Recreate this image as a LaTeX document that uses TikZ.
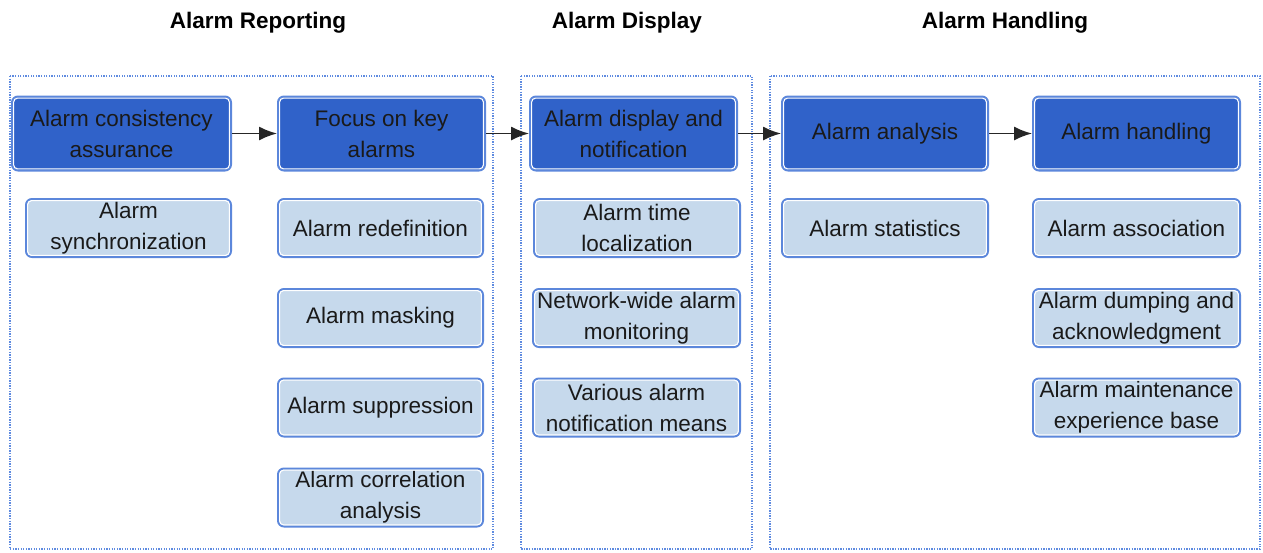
\documentclass[tikz,border=0pt]{standalone}
\usepackage{fontspec}
\setmainfont{Liberation Sans}
\usetikzlibrary{arrows.meta}
\definecolor{darkfill}{HTML}{3062C9}
\definecolor{lightfill}{HTML}{C6D9EC}
\definecolor{boxedge}{HTML}{5C87DB}
\definecolor{frameedge}{HTML}{5F8BE0}
\definecolor{txt}{HTML}{1A1A1A}
\begin{document}
\begin{tikzpicture}[x=1pt,y=-1pt,
  every node/.style={font=\fontsize{22.5}{31}\selectfont, text=txt, align=center, inner sep=0pt},
  mainbox/.style={draw=boxedge, line width=2pt, fill=darkfill, rounded corners=6pt, minimum height=74pt},
  subbox/.style={draw=boxedge, line width=2pt, fill=lightfill, rounded corners=6pt, minimum height=58pt},
  stage/.style={draw=frameedge, line width=1.6pt, dash pattern=on 1.3pt off 1.3pt},
  title/.style={font=\fontsize{22.5}{27}\selectfont\bfseries, text=black},
  flow/.style={draw=black!85, line width=1.6pt, -{Latex[length=18pt,width=14pt]}},
  innerline/.style={draw=white, line width=1.1pt, rounded corners=4pt}]
\useasboundingbox (0,0) rectangle (1263,552);

% stage frames
\draw[stage] (10,76) rectangle (493,549);
\draw[stage] (521,76) rectangle (752,549);
\draw[stage] (770,76) rectangle (1260,549);

% stage titles
\node[title] (t1) at (258,23) {Alarm Reporting};
\node[title] (t2) at (627,23) {Alarm Display};
\node[title] (t3) at (1005,23) {Alarm Handling};

% main steps
\node[mainbox, minimum width=219pt] (a1) at (121.5,133.5) {Alarm consistency\\assurance};
\node[mainbox, minimum width=207pt] (a2) at (381.5,133.5) {Focus on key\\alarms};
\node[mainbox, minimum width=207pt] (b1) at (633.5,133.5) {Alarm display and\\notification};
\node[mainbox, minimum width=206pt] (c1) at (885,133.5) {Alarm analysis};
\node[mainbox, minimum width=207pt] (c2) at (1136.5,133.5) {Alarm handling};

% sub-functions
\node[subbox, minimum width=205pt] (s1) at (128.5,228) {Alarm\\synchronization};
\node[subbox, minimum width=205pt] (s2) at (380.5,228) {Alarm redefinition};
\node[subbox, minimum width=205pt] (s3) at (380.5,318) {Alarm masking};
\node[subbox, minimum width=205pt] (s4) at (380.5,407.5) {Alarm suppression};
\node[subbox, minimum width=205pt] (s5) at (380.5,497.5) {Alarm correlation\\analysis};
\node[subbox, minimum width=206pt] (d1) at (637,228) {Alarm time\\localization};
\node[subbox, minimum width=207pt] (d2) at (636.5,318) {Network-wide alarm\\monitoring};
\node[subbox, minimum width=207pt] (d3) at (636.5,407.5) {Various alarm\\notification means};
\node[subbox, minimum width=206pt] (h1) at (885,228) {Alarm statistics};
\node[subbox, minimum width=207pt] (h2) at (1136.5,228) {Alarm association};
\node[subbox, minimum width=207pt] (h3) at (1136.5,318) {Alarm dumping and\\acknowledgment};
\node[subbox, minimum width=207pt] (h4) at (1136.5,407.5) {Alarm maintenance\\experience base};

% white inner rim of every box
\foreach \n in {a1,a2,b1,c1,c2,s1,s2,s3,s4,s5,d1,d2,d3,h1,h2,h3,h4}
  \draw[innerline] ([shift={(2.6,2.6)}]\n.north west) rectangle ([shift={(-2.6,-2.6)}]\n.south east);

% flow between main steps
\draw[flow] (a1.east) -- (a2.west);
\draw[flow] (a2.east) -- (b1.west);
\draw[flow] (b1.east) -- (c1.west);
\draw[flow] (c1.east) -- (c2.west);
\end{tikzpicture}
\end{document}
